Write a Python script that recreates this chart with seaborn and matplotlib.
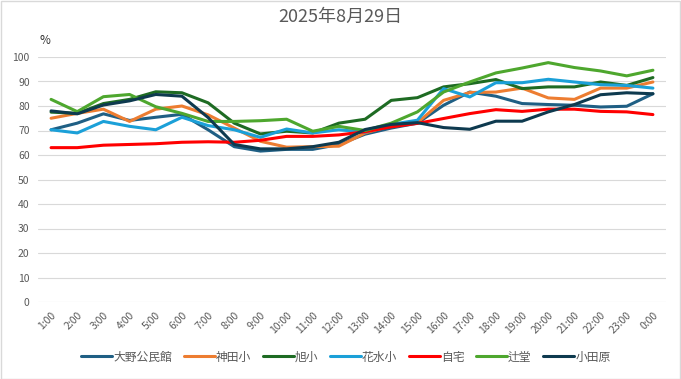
import pandas as pd
import matplotlib.pyplot as plt
import seaborn as sns
from matplotlib.patches import Rectangle

# Hourly values (%)
hours = [f"{h}:00" for h in range(1, 24)] + ["0:00"]

oono = [70.3, 73, 76.8, 74.1, 75.4, 76.6, 70.3, 63.4, 61.6, 62.3, 62.3, 64.3,
        68.5, 71, 73, 80.3, 85.7, 84, 81, 80.6, 80.3, 79.6, 79.9, 85]
kanda = [75, 77, 78.7, 73.7, 78.7, 80, 76.4, 71, 65.6, 63.2, 63.4, 63.6,
         69, 72, 73.2, 82.3, 85.5, 85.7, 87.3, 83.3, 82.7, 87.3, 87.3, 89.8]
asahi = [77.5, 77, 81, 82.7, 85.8, 85.4, 81.3, 73, 68.6, 69.7, 69, 73,
         74.6, 82.3, 83.4, 87.8, 89.1, 90.8, 87.1, 87.8, 87.8, 89.8, 88.4, 91.6]
hanamizu = [70.3, 69, 73.7, 71.7, 70.3, 75.4, 72, 70.3, 67.2, 70.6, 69, 70.3,
            69.3, 72.5, 74.2, 87.1, 83.7, 89.5, 89.5, 90.9, 89.8, 88.7, 88.4, 87.3]
jitaku = [63, 63, 64, 64.3, 64.6, 65.2, 65.4, 65.2, 66, 67.6, 67.6, 68.2,
          69.5, 71.5, 72.9, 74.9, 76.9, 78.5, 77.8, 78.7, 78.7, 77.8, 77.6, 76.5]
tsujido = [82.7, 77.7, 83.8, 84.7, 79.7, 77, 73.7, 73.7, 74, 74.6, 69.7, 71.7,
           70, 73, 77.6, 85.7, 89.8, 93.5, 95.5, 97.7, 95.7, 94.3, 92.3, 94.6]
odawara = [78, 76.8, 80.4, 82.1, 84.7, 84, 75.3, 64.3, 62.5, 62.5, 63.4, 65.2,
           70.4, 72.5, 73.2, 71.2, 70.5, 73.8, 73.8, 77.6, 80.6, 84.6, 85.4, 85]

series = {
    "大野公民館": oono,
    "神田小": kanda,
    "旭小": asahi,
    "花水小": hanamizu,
    "自宅": jitaku,
    "辻堂": tsujido,
    "小田原": odawara,
}
colors = ["#1F5F84", "#ED7D31", "#1E6B23", "#1BA0D8", "#FF0000", "#4EA72E", "#0E3A4F"]

rows = []
for name, vals in series.items():
    for i, v in enumerate(vals):
        rows.append({"idx": i, "value": v, "site": name})
df = pd.DataFrame(rows)

sns.set_style("white")
plt.rcParams['font.family'] = ['Noto Sans CJK JP', 'DejaVu Sans']

fig = plt.figure(figsize=(6.81, 3.79), dpi=100)
ax = fig.add_axes([38 / 681, 1 - 302 / 379, 628 / 681, 245 / 379])

sns.lineplot(data=df, x="idx", y="value", hue="site", palette=colors,
             linewidth=2.2, ax=ax, legend=True)

ax.set_xlim(-0.5, 23.5)
ax.set_ylim(0, 100)
ax.set_yticks(range(0, 101, 10))
ax.set_xticks(range(24))
ax.set_xticklabels(hours, rotation=45, ha="right", rotation_mode="anchor")
ax.tick_params(axis="both", colors="#595959", labelsize=7.5, length=0)
ax.tick_params(axis="x", pad=6)
ax.tick_params(axis="y", pad=6)
ax.grid(axis="y", color="#D9D9D9", linewidth=0.8)
ax.set_axisbelow(True)
for s in ax.spines.values():
    s.set_visible(False)
ax.set_xlabel("")
ax.set_ylabel("")

handles, labels = ax.get_legend_handles_labels()
ax.legend_.remove()
fig.legend(handles, labels, loc="center", bbox_to_anchor=(0.508, 1 - 357 / 379),
           ncol=7, frameon=False, fontsize=8.5, handlelength=2.6,
           handletextpad=0.1, columnspacing=1.0, labelcolor="#595959")

fig.text(0.5, 1 - 17 / 379, "2025年8月29日", ha="center", va="center",
         fontsize=13, color="#595959")
fig.text(45 / 681, 1 - 40 / 379, "%", ha="center", va="center",
         fontsize=8.5, color="#333333")

fig.patches.append(Rectangle((0.001, 0.001), 0.997, 0.997, transform=fig.transFigure,
                             fill=False, edgecolor="#D9D9D9", linewidth=1))

plt.savefig("out.png", dpi=100)
plt.close()
